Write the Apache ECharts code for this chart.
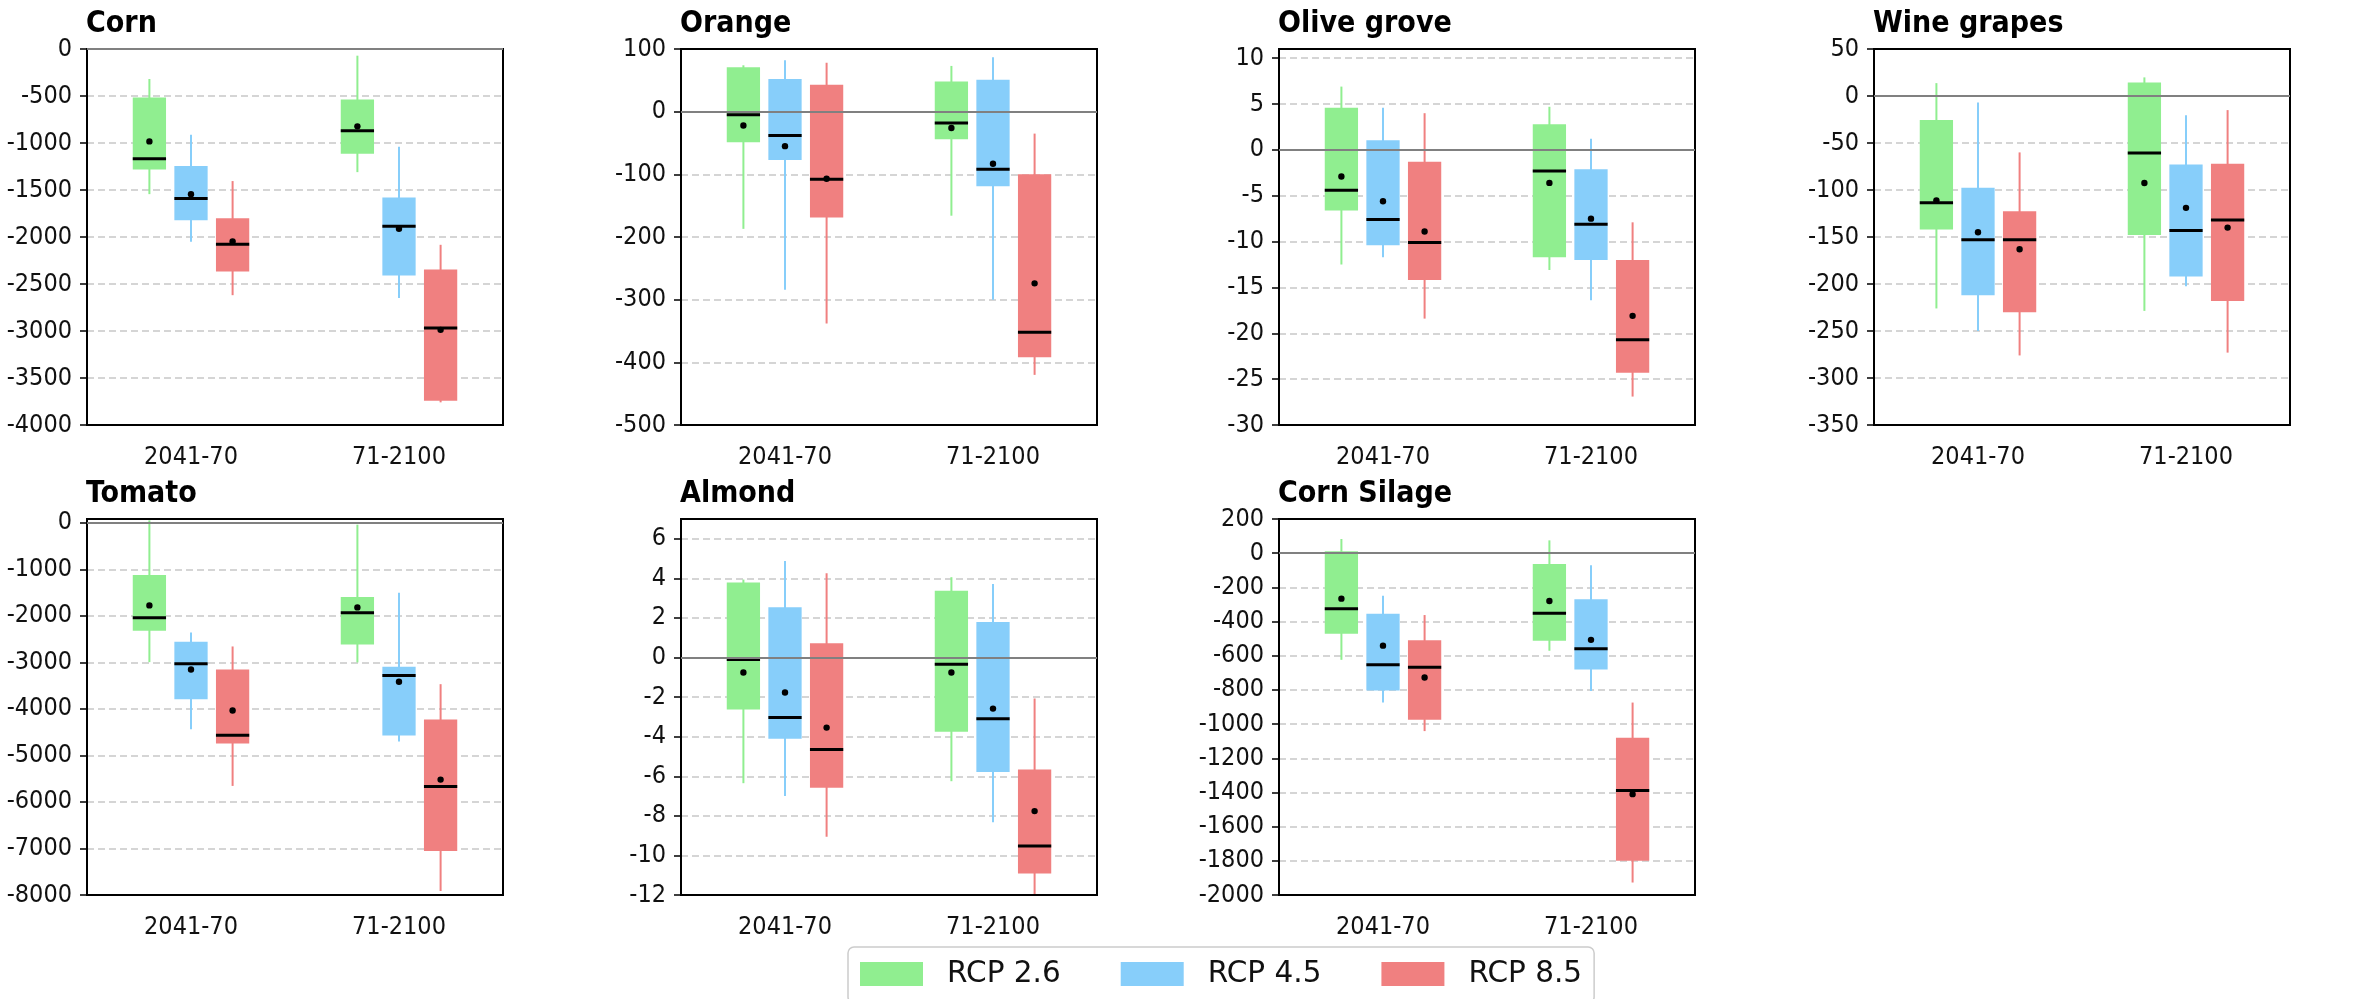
<!DOCTYPE html>
<html><head><meta charset="utf-8">
<script src="https://cdn.jsdelivr.net/npm/echarts@6/dist/echarts.min.js"></script>
<style>html,body{margin:0;padding:0;background:#fff}#c{width:2366px;height:999px}</style>
</head><body><div id="c"></div><script>
const periods = ['2041-70', '71-2100'];
const scenarios = ['RCP 2.6', 'RCP 4.5', 'RCP 8.5'];
const crops = ['Corn', 'Orange', 'Olive grove', 'Wine grapes', 'Tomato', 'Almond', 'Corn Silage'];
// each row: [whisker low, Q1, median, Q3, whisker high, mean] for 2041-70 and 71-2100
const corn26 = [[-1544, -1281, -1168, -515, -319, -983], [-1310, -1114, -870, -536, -71, -823]];
const corn45 = [[-2051, -1821, -1590, -1246, -912, -1544], [-2648, -2410, -1885, -1579, -1040, -1913]];
const corn85 = [[-2619, -2367, -2076, -1800, -1405, -2048], [-3759, -3741, -2967, -2346, -2083, -2988]];
const orange26 = [[-187, -49, -5, 71, 74, -22], [-166, -44, -18, 48, 73, -26]];
const orange45 = [[-284, -77, -38, 52, 82, -55], [-300, -119, -92, 51, 87, -83]];
const orange85 = [[-338, -169, -108, 43, 78, -107], [-420, -392, -352, -100, -35, -274]];
const olive26 = [[-12.5, -6.6, -4.4, 4.6, 6.9, -2.9], [-13.1, -11.7, -2.3, 2.8, 4.7, -3.6]];
const olive45 = [[-11.7, -10.4, -7.6, 1.05, 4.6, -5.6], [-16.4, -12.0, -8.1, -2.1, 1.2, -7.5]];
const olive85 = [[-18.4, -14.2, -10.1, -1.3, 4.0, -8.9], [-26.9, -24.3, -20.7, -12.0, -7.9, -18.1]];
const wine26 = [[-226, -142, -113.6, -25.4, 13.7, -111], [-228.6, -148, -60.6, 14.4, 19.8, -92.6]];
const wine45 = [[-250, -212, -153, -97.6, -7, -145], [-202.5, -192, -143, -73, -20.4, -119]];
const wine85 = [[-276, -230, -153, -122.5, -60, -163], [-273, -218, -132, -72, -15, -140]];
const tomato26 = [[-2992, -2317, -2038, -1119, 57, -1772], [-2999, -2612, -1930, -1593, -36, -1815]];
const tomato45 = [[-4434, -3788, -3028, -2554, -2353, -3150], [-4700, -4570, -3279, -3092, -1500, -3415]];
const tomato85 = [[-5654, -4743, -4563, -3150, -2655, -4032], [-7914, -7053, -5668, -4226, -3466, -5518]];
const almond26 = [[-6.35, -2.63, -0.10, 3.79, 3.94, -0.76], [-6.25, -3.75, -0.34, 3.38, 4.06, -0.76]];
const almond45 = [[-7.0, -4.11, -3.03, 2.54, 4.88, -1.77], [-8.33, -5.78, -3.10, 1.80, 3.72, -2.58]];
const almond85 = [[-9.06, -6.58, -4.65, 0.72, 4.26, -3.54], [-12, -10.91, -9.53, -5.66, -2.07, -7.76]];
const silage26 = [[-624, -471, -325, 11, 83, -266], [-571, -512, -352, -63, 75, -280]];
const silage45 = [[-873, -803, -653, -354, -249, -541], [-807, -680, -559, -270, -71, -507]];
const silage85 = [[-1041, -975, -667, -509, -362, -727], [-1927, -1799, -1389, -1080, -874, -1410]];
// y axis ranges / tick steps per panel
const yMin = [-4000, -500, -30, -350, -8000, -12, -2000];
const yMax = [0, 100, 11, 50, 86, 7, 200];
const yStep = [500, 100, 5, 50, 1000, 2, 200];

const cropStats = [
  [corn26, corn45, corn85], [orange26, orange45, orange85], [olive26, olive45, olive85],
  [wine26, wine45, wine85], [tomato26, tomato45, tomato85], [almond26, almond45, almond85],
  [silage26, silage45, silage85]
];
const colors = ['#90EE90', '#87CEFA', '#F08080'];
const FONT = '"DejaVu Sans Condensed", "DejaVu Sans", sans-serif';
const LFONT = '"DejaVu Sans", sans-serif';
const gridLeft = [87, 681, 1279, 1874, 87, 681, 1279];
const gridTop = [49, 49, 49, 49, 519, 519, 519];
const GW = 416, GH = 376;
const offsets = [-0.2, 0, 0.2];

function renderBox(k, color) {
  return function (params, api) {
    const cat = api.value(0);
    const band = api.size([1, 0])[0];
    const cx = api.coord([cat, 0])[0] + offsets[k] * band;
    const half = band * 0.08;
    const y = j => api.coord([cat, api.value(j)])[1];
    const lo = y(1), q1 = y(2), md = y(3), q3 = y(4), hi = y(5), mn = y(6);
    return {
      type: 'group', children: [
        { type: 'line', shape: { x1: cx, y1: hi, x2: cx, y2: lo }, style: { stroke: color, lineWidth: 2 } },
        { type: 'rect', shape: { x: cx - half, y: q3, width: 2 * half, height: q1 - q3 }, style: { fill: color } },
        { type: 'line', shape: { x1: cx - half, y1: md, x2: cx + half, y2: md }, style: { stroke: '#000', lineWidth: 3 } },
        { type: 'circle', shape: { cx: cx, cy: mn, r: 3.2 }, style: { fill: '#000' } }
      ]
    };
  };
}

const grids = [], xAxes = [], yAxes = [], titles = [], series = [];
crops.forEach((name, i) => {
  grids.push({ left: gridLeft[i], top: gridTop[i], width: GW, height: GH, show: true, borderColor: '#000', borderWidth: 2, z: 5 });
  titles.push({ text: name, left: gridLeft[i] - 1, top: gridTop[i] - 40, padding: 0,
    textStyle: { fontFamily: FONT, fontWeight: 'bold', fontSize: 30, color: '#000' } });
  xAxes.push({
    gridIndex: i, type: 'category', data: periods, boundaryGap: true,
    axisLine: { lineStyle: { color: '#000', width: 2 } },
    axisTick: { alignWithLabel: true, length: 7, lineStyle: { color: '#000', width: 1.5 } },
    axisLabel: { color: '#111', fontSize: 25, fontFamily: FONT, margin: 20 },
    splitLine: { show: false }
  });
  yAxes.push({
    gridIndex: i, type: 'value', min: yMin[i], max: yMax[i], interval: yStep[i],
    axisLine: { show: true, lineStyle: { color: '#000', width: 2 } },
    axisTick: { show: true, length: 7, lineStyle: { color: '#000', width: 1.5 } },
    axisLabel: { color: '#111', fontSize: 25, fontFamily: FONT, margin: 15,
      showMaxLabel: yMax[i] % yStep[i] === 0, formatter: v => String(v) },
    splitLine: { show: true, showMinLine: false, showMaxLine: false,
      lineStyle: { type: [7, 4], color: '#c8c8c8', width: 1.5 } }
  });
  series.push({
    type: 'scatter', xAxisIndex: i, yAxisIndex: i, data: [[0, 0]], symbolSize: 0, silent: true, z: 1,
    markLine: { silent: true, symbol: 'none', label: { show: false },
      lineStyle: { color: '#808080', width: 2, type: 'solid' }, data: [{ yAxis: 0 }] }
  });
  scenarios.forEach((sc, k) => {
    const stats = cropStats[i][k];
    series.push({
      type: 'custom', name: sc, xAxisIndex: i, yAxisIndex: i, z: 3,
      itemStyle: { color: colors[k] },
      renderItem: renderBox(k, colors[k]),
      encode: { x: 0, y: [1, 2, 3, 4, 5, 6] },
      data: periods.map((p, j) => [j].concat(stats[j]))
    });
  });
});

const chart = echarts.init(document.getElementById('c'));
chart.setOption({
  animation: false,
  backgroundColor: '#fff',
  title: titles,
  grid: grids, xAxis: xAxes, yAxis: yAxes,
  legend: {
    data: scenarios, left: 848, top: 947, orient: 'horizontal', icon: 'rect',
    itemWidth: 63, itemHeight: 24, itemGap: 60,
    borderColor: '#cccccc', borderWidth: 1.5, borderRadius: 6, padding: [12, 12, 14, 12],
    textStyle: { fontFamily: LFONT, fontSize: 29.5, color: '#111', padding: [0, 0, 0, 19] }
  },
  series: series
});
</script></body></html>
